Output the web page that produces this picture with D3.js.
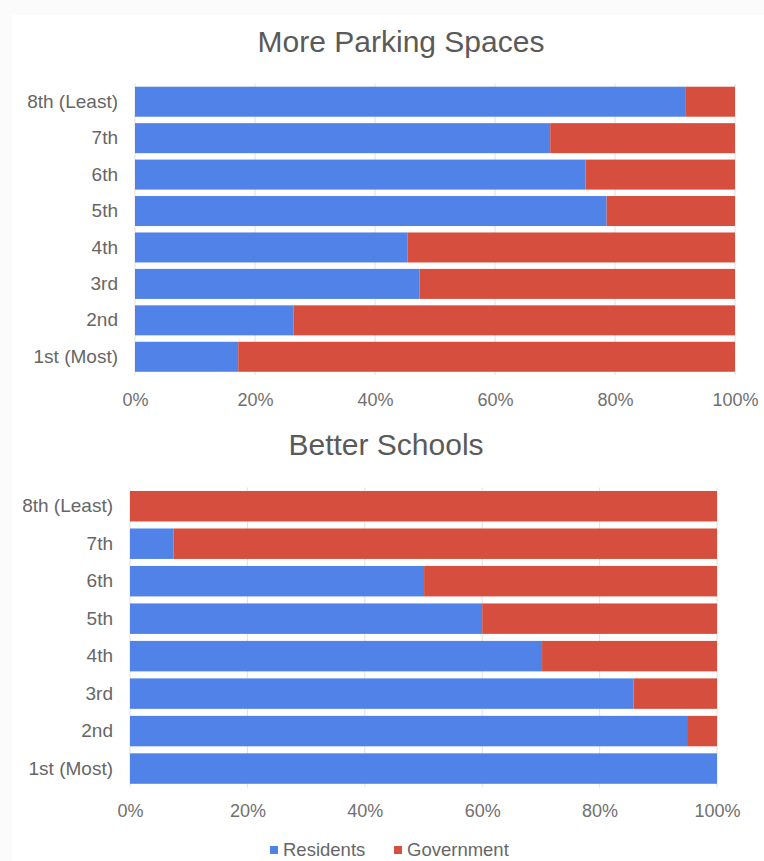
<!DOCTYPE html>
<html>
<head>
<meta charset="utf-8">
<script src="https://cdn.jsdelivr.net/npm/d3@7"></script>
<style>
  html, body { margin: 0; padding: 0; background: #ffffff; }
  svg { display: block; font-family: "Liberation Sans", Arial, sans-serif; }
</style>
</head>
<body>
<svg id="chart" width="764" height="861"></svg>
<script>
// Rank categories, top to bottom
const ranks = ["8th (Least)", "7th", "6th", "5th", "4th", "3rd", "2nd", "1st (Most)"];
const seriesNames = ["Residents", "Government"];
const seriesColors = ["#5082e8", "#d64f3e"];

// Share (%) of each rank given to each group
const parkingResidents = [91.7, 69.2, 75.1, 78.6, 45.4, 47.4, 26.4, 17.2];
const parkingGovernment = [8.3, 30.8, 24.9, 21.4, 54.6, 52.6, 73.6, 82.8];
const schoolsResidents = [0, 7.4, 50.1, 60.0, 70.2, 85.8, 94.9, 100];
const schoolsGovernment = [100, 92.6, 49.9, 40.0, 29.8, 14.2, 5.1, 0];

const tickValues = [0, 20, 40, 60, 80, 100];
const tickLabels = ["0%", "20%", "40%", "60%", "80%", "100%"];

const svg = d3.select("#chart");

// faint page frame
svg.append("rect").attr("x", 0).attr("y", 0).attr("width", 764).attr("height", 861).attr("fill", "#fbfbfb");
svg.append("rect").attr("x", 12).attr("y", 15).attr("width", 752).attr("height", 846).attr("fill", "#ffffff");

function drawPanel(cfg) {
  const rows = ranks.map((r, i) => ({ rank: r, Residents: cfg.residents[i], Government: cfg.government[i] }));
  const stacked = d3.stack().keys(seriesNames)(rows);

  const x = d3.scaleLinear().domain([0, 100]).range([cfg.left, cfg.right]);
  const y = d3.scaleBand().domain(ranks).range([cfg.top, cfg.bottom])
    .paddingInner(cfg.pad).paddingOuter(cfg.pad / 2);

  const g = svg.append("g");

  // title
  g.append("text")
    .attr("x", cfg.titleX).attr("y", cfg.titleY)
    .attr("text-anchor", "middle")
    .attr("font-size", 30)
    .attr("fill", "#5a5a5a")
    .text(cfg.title);

  // vertical gridlines
  g.append("g").selectAll("line").data(tickValues).join("line")
    .attr("x1", d => x(d)).attr("x2", d => x(d))
    .attr("y1", cfg.top).attr("y2", cfg.bottom)
    .attr("stroke", "#e0e0e0").attr("stroke-width", 1);

  // stacked bars
  g.append("g").selectAll("g").data(stacked).join("g")
    .attr("fill", (d, i) => seriesColors[i])
    .selectAll("rect").data(d => d).join("rect")
    .attr("x", d => x(d[0]))
    .attr("y", d => y(d.data.rank))
    .attr("width", d => x(d[1]) - x(d[0]))
    .attr("height", y.bandwidth());

  // x axis
  const xAxis = d3.axisBottom(x).tickValues(tickValues)
    .tickFormat((d, i) => tickLabels[i]).tickSize(0).tickPadding(0);
  const xg = g.append("g").attr("transform", `translate(0,${cfg.axisY})`).call(xAxis);
  xg.select(".domain").remove();
  xg.selectAll("text").attr("font-size", 18).attr("fill", "#707070")
    .attr("font-family", "Liberation Sans, Arial, sans-serif").attr("dy", "0.35em");

  // y axis
  const yAxis = d3.axisLeft(y).tickSize(0).tickPadding(0);
  const yg = g.append("g").attr("transform", `translate(${cfg.labelX},0)`).call(yAxis);
  yg.select(".domain").remove();
  yg.selectAll("text").attr("font-size", 19).attr("fill", "#666666")
    .attr("font-family", "Liberation Sans, Arial, sans-serif");
}

drawPanel({
  title: "More Parking Spaces", titleX: 401, titleY: 52,
  residents: parkingResidents, government: parkingGovernment,
  left: 135, right: 735, top: 83.5, bottom: 375, pad: 0.1765,
  axisY: 400, labelX: 118
});

drawPanel({
  title: "Better Schools", titleX: 386, titleY: 455,
  residents: schoolsResidents, government: schoolsGovernment,
  left: 130, right: 717, top: 487.5, bottom: 787.3, pad: 0.187,
  axisY: 811, labelX: 113
});

// legend
const legend = svg.append("g").attr("transform", "translate(270,850)");
const legendX = [0, 124];
seriesNames.forEach((name, i) => {
  const item = legend.append("g").attr("transform", `translate(${legendX[i]},0)`);
  item.append("rect").attr("x", 0).attr("y", -4).attr("width", 8).attr("height", 8).attr("fill", seriesColors[i]);
  item.append("text").attr("x", 13).attr("y", 0).attr("dy", "0.35em")
    .attr("font-size", 18.5).attr("fill", "#666666").text(name);
});
</script>
</body>
</html>
